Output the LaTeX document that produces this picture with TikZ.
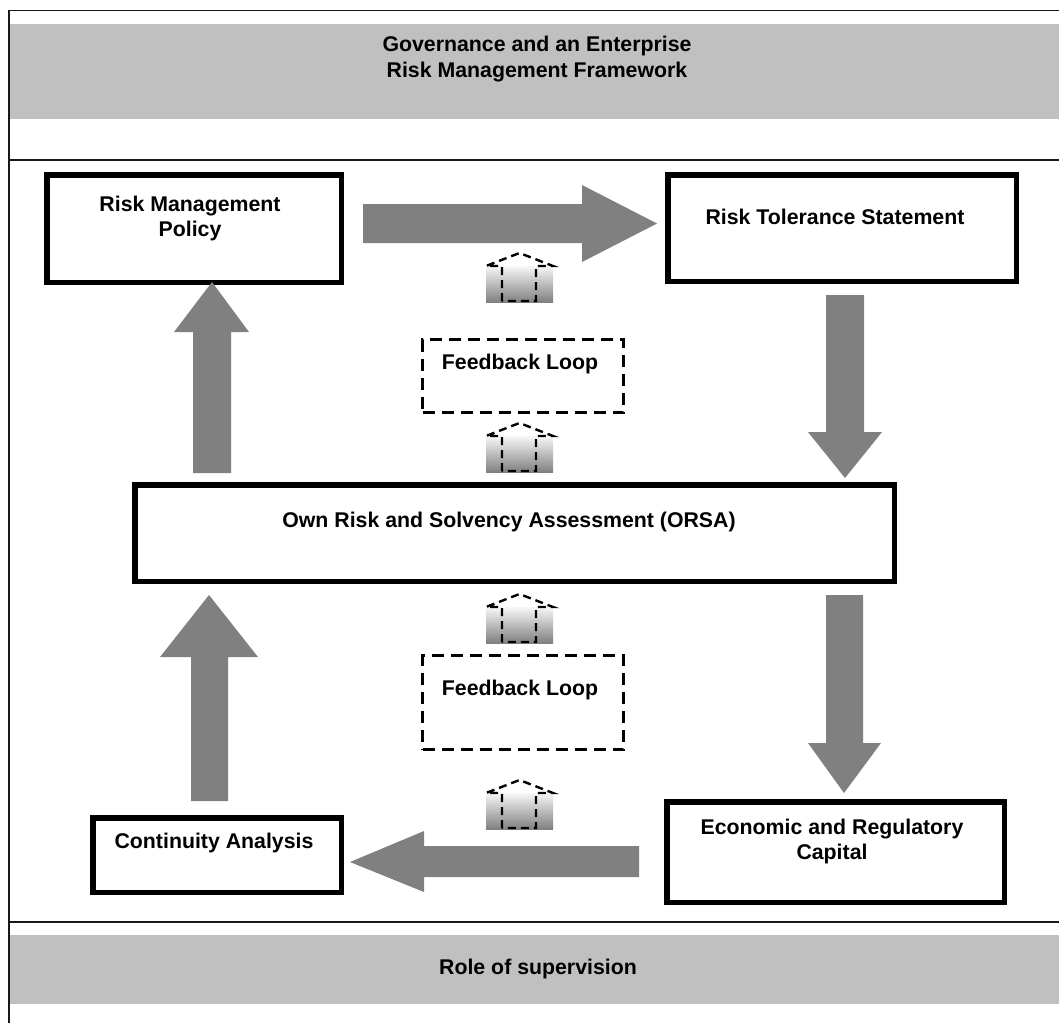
\documentclass[tikz,border=0pt]{standalone}
\usepackage{fontspec}
\setmainfont{Liberation Sans}
\definecolor{bandgray}{HTML}{C0C0C0}
\definecolor{arrowgray}{HTML}{808080}
\begin{document}
\begin{tikzpicture}[x=1pt,y=-1pt,
  bigbox/.style={draw=black, line width=5.5pt, fill=white, inner sep=0pt, rectangle},
  fbbox/.style={draw=black, line width=3pt, dash pattern=on 12pt off 7pt, inner sep=0pt, rectangle},
  txt/.style={font=\bfseries\fontsize{21.3}{25.5}\selectfont, align=center, inner sep=0pt},
  blockarrow/.style={fill=arrowgray, draw=none},
  frameline/.style={line width=1.8pt, draw=black!90},
  band/.style={fill=bandgray, draw=none},
  fbarrowline/.style={draw=black, line width=2.4pt, dash pattern=on 8pt off 5pt}
]
\useasboundingbox (0,0) rectangle (1059,1023);
\fill[white] (0,0) rectangle (1059,1023);

% bands and frame
\path[band] (9,24) rectangle (1059,119);
\path[band] (9,935) rectangle (1059,1004);
\draw[frameline] (9,10.5) -- (1059,10.5);
\draw[frameline] (9,10) -- (9,1023);
\draw[frameline] (9,160) -- (1059,160);
\draw[frameline] (9,922) -- (1059,922);

\node[txt] (gov) at (537,59) {Governance and an Enterprise\\Risk Management Framework};
\node[txt] (sup) at (538,969) {Role of supervision};

% boxes
\node[bigbox, minimum width=294.5pt, minimum height=107.5pt] (rmp) at (194,228.5) {};
\node[bigbox, minimum width=348.5pt, minimum height=106.5pt] (rts) at (842,228) {};
\node[bigbox, minimum width=759.5pt, minimum height=96.5pt] (orsa) at (514.5,533) {};
\node[bigbox, minimum width=248.5pt, minimum height=74.5pt] (ca) at (217,855) {};
\node[bigbox, minimum width=337.5pt, minimum height=100.5pt] (erc) at (835.5,852) {};
\node[fbbox, minimum width=201pt, minimum height=73pt] (fb1) at (523,376) {};
\node[fbbox, minimum width=201pt, minimum height=94pt] (fb2) at (523,702.5) {};

\node[txt] (rmpt) at (190,218.5) {Risk Management\\Policy};
\node[txt] (rtst) at (835,217) {Risk Tolerance Statement};
\node[txt] (orsat) at (509,522) {Own Risk and Solvency Assessment (ORSA)};
\node[txt] (cat) at (214,843) {Continuity Analysis};
\node[txt] (erct) at (832,841.5) {Economic and Regulatory\\Capital};
\node[txt] (fb1t) at (520,364) {Feedback Loop};
\node[txt] (fb2t) at (520,690) {Feedback Loop};

% big block arrows
\path[blockarrow] (363,204) -- (582,204) -- (582,185) -- (657,223.5) -- (582,262) -- (582,243) -- (363,243) -- cycle;
\path[blockarrow] (826,295) -- (864,295) -- (864,432) -- (882,432) -- (845,478) -- (808,432) -- (826,432) -- cycle;
\path[blockarrow] (193,473) -- (193,332) -- (174,332) -- (212,282) -- (249,332) -- (231,332) -- (231,473) -- cycle;
\path[blockarrow] (826,595) -- (863,595) -- (863,743) -- (881,743) -- (844,793) -- (808,743) -- (826,743) -- cycle;
\path[blockarrow] (191,801) -- (191,657) -- (160,657) -- (209,595) -- (258,657) -- (228,657) -- (228,801) -- cycle;
\path[blockarrow] (639,846) -- (424,846) -- (424,831) -- (350,862) -- (424,892) -- (424,877) -- (639,877) -- cycle;

% small feedback arrows
\newcommand\fbArrowSmall[1]{%
  \shade[top color=white!97!black, bottom color=arrowgray] (486,#1+13) rectangle (553,#1+49);
  \draw[fbarrowline] (502,#1+48) -- (502,#1+13) -- (486,#1+13) -- (519.5,#1) -- (553,#1+13) -- (536,#1+13) -- (536,#1+48) -- cycle;
}
\fbArrowSmall{253}
\fbArrowSmall{423}
\fbArrowSmall{594}
\fbArrowSmall{780}
\end{tikzpicture}
\end{document}
